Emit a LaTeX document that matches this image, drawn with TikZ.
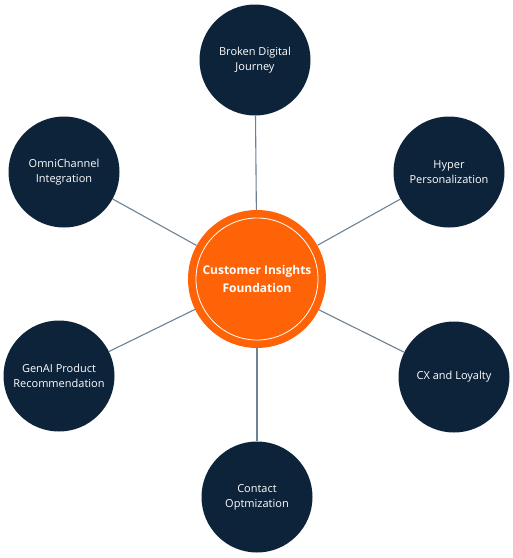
\documentclass[tikz,border=0pt]{standalone}
\usepackage{fontspec}
\setmainfont{Open Sans}
\definecolor{navy}{HTML}{0D233A}
\definecolor{hub}{HTML}{FF6307}
\definecolor{spoke}{HTML}{6E8294}
\begin{document}
\begin{tikzpicture}[x=1pt,y=-1pt,
  leaf/.style={circle,fill=navy,minimum size=111pt,inner sep=0pt,text=white,
    align=center,font=\fontsize{11}{15}\selectfont},
  hubnode/.style={circle,fill=hub,minimum size=138pt,inner sep=0pt,text=white,
    align=center,font=\fontsize{12}{18}\selectfont\bfseries},
  link/.style={draw=spoke,line width=1.1pt}]
\useasboundingbox (0,0) rectangle (513,558);
\fill[white] (0,0) rectangle (513,558);
\node[hubnode] (c) at (257,279) {Customer Insights\\Foundation};
\draw[white,line width=0.8pt] (c.center) circle (61pt);
\node[leaf] (t) at (255,60) {Broken Digital\\Journey};
\node[leaf] (tl) at (64,172) {OmniChannel\\Integration};
\node[leaf] (tr) at (449,172) {Hyper\\Personalization};
\node[leaf] (bl) at (59,376) {GenAI Product\\Recommendation};
\node[leaf] (br) at (454,377) {CX and Loyalty};
\node[leaf] (b) at (257,497) {Contact\\Optmization};
\foreach \n in {t,tl,tr,bl,br,b} \draw[link] (c) -- (\n);
\end{tikzpicture}
\end{document}
